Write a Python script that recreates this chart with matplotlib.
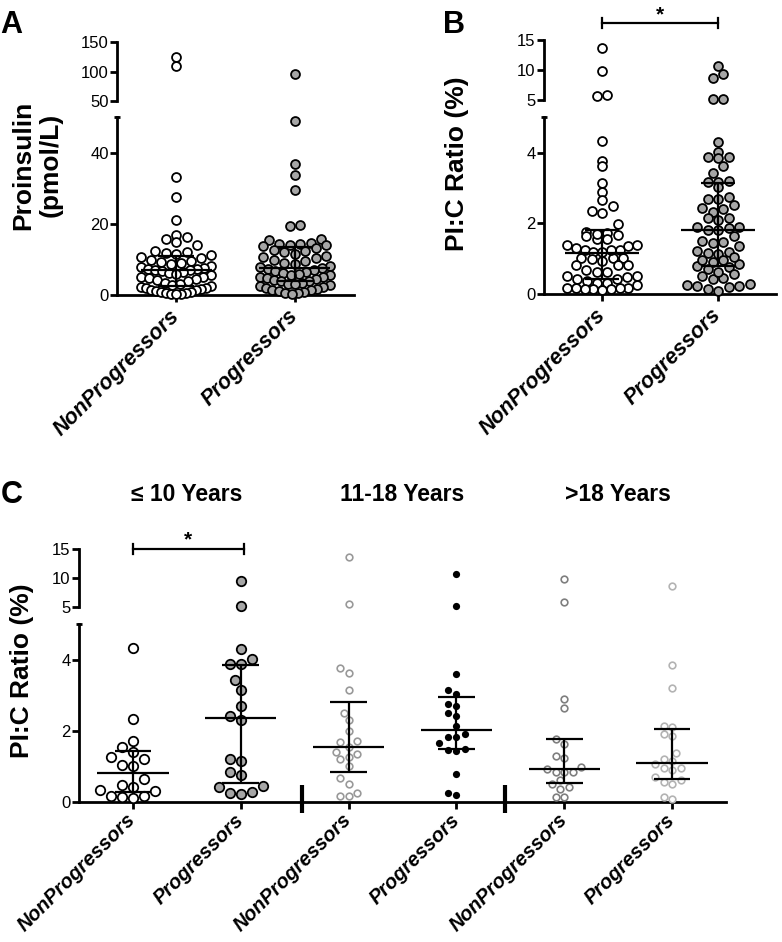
import numpy as np
import matplotlib
matplotlib.use('Agg')
import matplotlib.pyplot as plt
from matplotlib.transforms import blended_transform_factory

plt.rcParams['font.family'] = ['Liberation Sans', 'DejaVu Sans']

# ---------------- data ----------------
groups = ['NonProgressors', 'Progressors']

# A: proinsulin, pmol/L
pi_non = [124, 110, 33.2, 27.6, 21.0,
          17.0, 16.2, 15.8, 14.8, 14.0, 12.5, 12.2, 11.8, 11.5, 11.2,
          10.8, 10.3, 9.9, 9.5, 9.2, 9.0, 8.6, 8.3, 8.0, 7.7, 7.4, 7.3, 7.1, 7.0,
          6.8, 6.5, 6.1, 5.8, 5.5, 5.2, 5.0, 4.7, 4.4, 4.1, 3.8, 3.5, 3.2, 2.9, 2.6,
          2.3, 2.1, 1.9, 1.7, 1.5, 1.3, 1.1, 0.9, 0.8, 0.6, 0.5, 0.4, 0.3, 0.2]
pi_prog = [95.7, 48.9, 37.0, 33.8, 29.6, 19.6, 19.5,
           15.7, 15.4, 14.6, 14.4, 14.3, 14.2, 14.0, 13.8,
           13.2, 12.8, 12.4, 12.0, 11.5, 11.0, 10.6, 10.4, 9.8, 9.5, 9.0, 8.6, 8.2, 7.9, 7.6,
           7.4, 7.1, 6.8, 6.5, 6.2, 6.0, 5.7, 5.5, 5.2, 5.0, 4.8, 4.5, 4.2, 4.0, 3.9,
           3.5, 3.2, 3.0, 2.7, 2.4, 2.2, 2.0, 1.8, 1.5, 1.3, 1.1, 0.9, 0.7, 0.5, 0.3]
pi_med = [6.9, 7.5]
pi_q1 = [2.5, 3.8]
pi_q3 = [11.0, 13.5]

# C: PI:C ratio (%) by age at sampling
age_groups = ['\u2264 10 Years', '11-18 Years', '>18 Years']
c_non_10 = [4.33, 2.34, 1.72, 1.55, 1.40, 1.25, 1.20, 1.03, 1.01, 0.63,
            0.48, 0.42, 0.32, 0.31, 0.17, 0.16, 0.14, 0.10]
c_prog_10 = [9.4, 5.1, 4.31, 4.02, 3.89, 3.87, 3.42, 3.16, 2.70, 2.41,
             2.31, 1.21, 1.14, 0.84, 0.75, 0.45, 0.42, 0.27, 0.25, 0.22]
c_non_11 = [13.7, 5.6, 3.77, 3.63, 3.14, 2.50, 2.29, 1.98, 1.71, 1.67, 1.55,
            1.40, 1.35, 1.25, 1.20, 1.01, 0.68, 0.50, 0.25, 0.17, 0.16]
c_prog_11 = [10.7, 5.1, 3.61, 3.16, 3.03, 2.75, 2.70, 2.51, 2.42, 2.14,
             1.90, 1.82, 1.82, 1.65, 1.49, 1.46, 1.43, 0.78, 0.24, 0.19]
c_non_18 = [9.83, 5.86, 2.90, 2.65, 1.76, 1.64, 1.30, 1.24, 0.99, 0.92,
            0.83, 0.83, 0.83, 0.61, 0.50, 0.42, 0.36, 0.14, 0.14]
c_prog_18 = [8.67, 3.84, 3.20, 2.14, 2.10, 1.90, 1.86, 1.37, 1.20, 1.16,
             1.06, 0.96, 0.96, 0.90, 0.71, 0.61, 0.56, 0.50, 0.14, 0.08]
c_med = [0.82, 2.36, 1.55, 2.03, 0.92, 1.10]
c_q1 = [0.28, 0.52, 0.83, 1.49, 0.52, 0.64]
c_q3 = [1.43, 3.86, 2.81, 2.94, 1.76, 2.05]

# B: all ages pooled
b_non = c_non_10 + c_non_11 + c_non_18
b_prog = c_prog_10 + c_prog_11 + c_prog_18
b_med = [1.17, 1.82]
b_q1 = [0.42, 0.80]
b_q3 = [1.81, 3.14]

# ---------------- figure ----------------
W, H = 782, 942
fig = plt.figure(figsize=(W / 100, H / 100), dpi=100)


def box(x0, ytop, x1, ybot):
    return [x0 / W, 1 - ybot / H, (x1 - x0) / W, (ybot - ytop) / H]


def style(ax, lower):
    ax.patch.set_visible(False)
    for s in ['top', 'right']:
        ax.spines[s].set_visible(False)
    ax.spines['left'].set_linewidth(2)
    ax.spines['bottom'].set_linewidth(2)
    ax.tick_params(axis='y', length=5, width=2, labelsize=12, pad=1)
    ax.tick_params(axis='x', length=5, width=2, pad=8)
    if not lower:
        ax.spines['bottom'].set_visible(False)
        ax.tick_params(axis='x', bottom=False, labelbottom=False)
    else:
        # little cap at the top of the lower y axis (axis break)
        ax.plot([0], [1], marker='_', ms=5, mew=2, color='k',
                transform=ax.transAxes, clip_on=False)


def broken(x0, x1, up, lo, ylo, yup, ticks_lo, ticks_up, ncat):
    axu = fig.add_axes(box(x0, up[0], x1, up[1]))
    axl = fig.add_axes(box(x0, lo[0], x1, lo[1]))
    for ax, yl, tk, low in [(axu, yup, ticks_up, False), (axl, ylo, ticks_lo, True)]:
        ax.set_xlim(-0.5, ncat - 0.5)
        ax.set_ylim(*yl)
        ax.set_yticks(tk)
        style(ax, low)
    return axu, axl


def rows(ax, xc, vals, h, d, maxhalf):
    # GraphPad-like rows: bin by height, spread each bin, lowest value in the middle
    vals = np.asarray(vals, float)
    ypx = ax.transData.transform(np.column_stack([np.full(len(vals), xc), vals]))[:, 1]
    y0 = ax.transAxes.transform((0, 0))[1]
    xunit = ax.transData.transform((1, 0))[0] - ax.transData.transform((0, 0))[0]
    bins = np.floor((ypx - y0) / h)
    offs = np.zeros(len(vals))
    for b in np.unique(bins):
        idx = np.where(bins == b)[0]
        idx = idx[np.argsort(ypx[idx])]
        n = len(idx)
        s = d if n < 2 else min(d, 2 * maxhalf / (n - 1))
        pos = (np.arange(n) - (n - 1) / 2) * s
        order = np.argsort(np.abs(pos) + 1e-3 * pos)
        offs[idx] = pos[order]
    return xc + offs / xunit


def swarm(ax, xc, vals, d):
    vals = np.asarray(vals, float)
    ypx = ax.transData.transform(np.column_stack([np.full(len(vals), xc), vals]))[:, 1]
    xunit = ax.transData.transform((1, 0))[0] - ax.transData.transform((0, 0))[0]
    step = d / 2
    cands = sorted(np.arange(-12, 13) * step, key=lambda o: (abs(o), o))
    placed = []
    offs = np.zeros(len(vals))
    for i in np.argsort(ypx):
        for o in cands:
            if all((o - px) ** 2 + (ypx[i] - py) ** 2 >= (0.95 * d) ** 2 for px, py in placed):
                break
        offs[i] = o
        placed.append((o, ypx[i]))
    return xc + offs / xunit


def scatter(axu, axl, xc, vals, split, kind, d, mk, h=None, maxhalf=None):
    vals = np.asarray(vals, float)
    for ax, v in [(axu, vals[vals >= split]), (axl, vals[vals < split])]:
        if len(v) == 0:
            continue
        if kind == 'rows':
            xs = rows(ax, xc, v, h, d, maxhalf)
        else:
            xs = swarm(ax, xc, v, d)
        ax.plot(xs, v, 'o', ls='none', clip_on=False, zorder=3, **mk)


def iqr(ax, xc, med, q1, q3, wm, wc):
    kw = dict(color='k', lw=1.6, zorder=4, solid_capstyle='butt')
    ax.plot([xc - wm, xc + wm], [med, med], **kw)
    ax.plot([xc - wc, xc + wc], [q1, q1], **kw)
    ax.plot([xc - wc, xc + wc], [q3, q3], **kw)
    ax.plot([xc, xc], [q1, q3], **kw)


def sig(ax, x0, x1, y, cap, ystar):
    kw = dict(color='k', lw=1.6, clip_on=False)
    ax.plot([x0, x1], [y, y], **kw)
    ax.plot([x0, x0], [y - cap, y + cap], **kw)
    ax.plot([x1, x1], [y - cap, y + cap], **kw)
    ax.text((x0 + x1) / 2, ystar, '*', ha='center', va='baseline',
            fontsize=15, fontweight='bold')


def catlabels(ax, labels, size):
    ax.set_xticks(range(len(labels)))
    ax.set_xticklabels(labels, rotation=45, ha='right', va='center', rotation_mode='anchor',
                       fontsize=size, fontweight='bold', fontstyle='italic')


white = dict(ms=6.4, mfc='white', mec='k', mew=1.3)
grey = dict(ms=6.4, mfc='#a6a6a6', mec='k', mew=1.3)

# ---- Panel A ----
axu, axl = broken(117, 354, (42.3, 100.7), (117.3, 295), (0, 50), (50, 150),
                  [0, 20, 40], [50, 100, 150], 2)
scatter(axu, axl, 0, pi_non, 50, 'rows', 10.5, white, h=10, maxhalf=35)
scatter(axu, axl, 1, pi_prog, 50, 'rows', 10.5, grey, h=10, maxhalf=35)
for i in range(2):
    iqr(axl, i, pi_med[i], pi_q1[i], pi_q3[i], 0.30, 0.15)
catlabels(axl, groups, 15.5)
fig.text(37 / W, 1 - 165 / H, 'Proinsulin\n(pmol/L)', rotation=90, ha='center', va='center',
         fontsize=19, fontweight='bold', multialignment='center')
fig.text(0.5 / W, 1 - 33.3 / H, 'A', fontsize=22, fontweight='bold', va='baseline')

# ---- Panel B ----
axu, axl = broken(544, 776, (40, 100), (117.3, 294), (0, 5), (5, 15),
                  [0, 2, 4], [5, 10, 15], 2)
scatter(axu, axl, 0, b_non, 5, 'rows', 10.5, white, h=10, maxhalf=35)
scatter(axu, axl, 1, b_prog, 5, 'rows', 10.5, grey, h=10, maxhalf=35)
for i in range(2):
    iqr(axl, i, b_med[i], b_q1[i], b_q3[i], 0.32, 0.15)
catlabels(axl, groups, 15.5)
sig(axu, 0, 1, 17.9, 0.85, 18.3)
fig.text(457 / W, 1 - 164 / H, 'PI:C Ratio (%)', rotation=90, ha='center', va='center',
         fontsize=19, fontweight='bold')
fig.text(443 / W, 1 - 33.3 / H, 'B', fontsize=22, fontweight='bold', va='baseline')

# ---- Panel C ----
axu, axl = broken(79, 726, (549, 607), (624.3, 801.7), (0, 5), (5, 15),
                  [0, 2, 4], [5, 10, 15], 6)
c_sets = [c_non_10, c_prog_10, c_non_11, c_prog_11, c_non_18, c_prog_18]
c_marks = [
    dict(ms=6.8, mfc='white', mec='k', mew=1.3),
    dict(ms=6.8, mfc='#a6a6a6', mec='k', mew=1.3),
    dict(ms=4.8, mfc='white', mec='#999999', mew=1.2),
    dict(ms=5.2, mfc='k', mec='k', mew=0),
    dict(ms=4.8, mfc='white', mec='#7f7f7f', mew=1.2),
    dict(ms=4.8, mfc='white', mec='#b3b3b3', mew=1.2),
]
c_size = [11, 11, 8.5, 8.5, 8.5, 8.5]
for i in range(6):
    scatter(axu, axl, i, c_sets[i], 5, 'swarm', c_size[i], c_marks[i])
    iqr(axl, i, c_med[i], c_q1[i], c_q3[i], 0.33, 0.17)
catlabels(axl, groups * 3, 14.5)
axl.tick_params(axis='x', pad=6)
for xb in [1.57, 3.45]:
    axl.plot([xb, xb], [-0.32, 0.47], color='k', lw=3, clip_on=False, solid_capstyle='butt')
sig(axu, 0, 1.03, 15.0, 0.86, 15.6)
tr = blended_transform_factory(axl.transData, fig.transFigure)
for k, t in enumerate(age_groups):
    axl.text(2 * k + 0.5, 1 - 500.5 / H, t, transform=tr, ha='center', va='baseline',
             fontsize=16.5, fontweight='bold')
fig.text(22 / W, 1 - 671 / H, 'PI:C Ratio (%)', rotation=90, ha='center', va='center',
         fontsize=19, fontweight='bold')
fig.text(0.5 / W, 1 - 503.3 / H, 'C', fontsize=22, fontweight='bold', va='baseline')

fig.savefig('out.png', dpi=100)
